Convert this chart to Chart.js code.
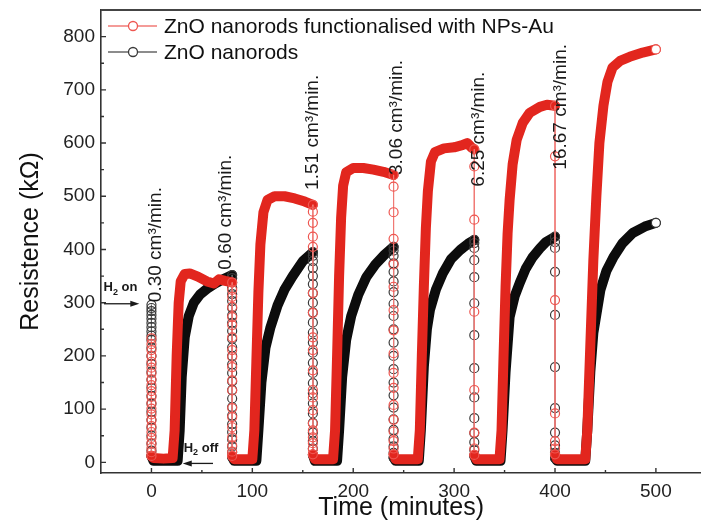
<!DOCTYPE html>
<html>
<head>
<meta charset="utf-8">
<script src="https://cdn.jsdelivr.net/npm/chart.js@4.4.0/dist/chart.umd.min.js"></script>
<style>
  html, body { margin: 0; padding: 0; background: #fff; overflow: hidden; }
  #wrap { width: 701px; height: 523px; overflow: hidden; }
</style>
</head>
<body>
<div id="wrap"><canvas id="chart" width="707" height="523"></canvas></div>
<script>
// H2 switched off at these times (minutes), flow rate of each pulse
const dropTimes = [0, 80, 160, 240, 320, 400];
const flowRates = ['0.30', '0.60', '1.51', '3.06', '6.25', '16.67'];

// ZnO + NPs-Au: readings along each vertical drop (kΩ)
const auDrops = [
  [233, 222, 211, 200, 189, 178, 167, 156, 145, 134, 123, 112, 101, 90, 79, 68, 57, 46, 36, 27, 19, 12],
  [324, 311, 292, 273, 258, 235, 211, 198, 179, 154, 135, 102, 85, 66, 47, 32, 20, 12],
  [471, 450, 424, 405, 318, 281, 235, 211, 173, 136, 122, 98, 73, 60, 47, 36, 25, 15],
  [518, 470, 420, 372, 330, 286, 248, 205, 168, 140, 108, 80, 58, 40, 26, 15],
  [556, 456, 283, 136, 56, 26, 14],
  [575, 305, 92, 40, 26, 15]
];
// ZnO + NPs-Au: recovery after each drop, [minutes, kΩ]
const auCycles = [
  [[2, 8], [12, 7], [21, 8], [23, 60], [25, 200], [27, 300], [29, 340], [33, 354], [38, 355], [46, 349], [55, 340], [62, 336], [67, 344], [73, 341], [80, 338]],
  [[82, 6], [100, 6], [102, 60], [104, 190], [106, 320], [108, 410], [111, 470], [115, 493], [122, 500], [132, 500], [142, 496], [152, 490], [160, 484]],
  [[162, 6], [180, 6], [182, 60], [184, 200], [186, 350], [188, 460], [190, 520], [193, 545], [200, 553], [210, 553], [220, 550], [230, 546], [240, 540]],
  [[242, 6], [264, 6], [266, 60], [268, 200], [270, 330], [272, 440], [274, 510], [277, 565], [281, 583], [290, 590], [300, 592], [308, 596], [313, 600], [317, 592], [320, 588]],
  [[322, 6], [345, 6], [347, 60], [349, 200], [351, 330], [353, 430], [355, 493], [358, 560], [362, 606], [368, 638], [375, 657], [385, 668], [392, 672], [400, 670]],
  [[402, 6], [430, 6], [432, 60], [435, 220], [438, 380], [441, 500], [444, 600], [448, 670], [452, 715], [457, 742], [465, 755], [474, 762], [487, 770], [500, 776]]
];

// bare ZnO nanorods
const znoDrops = [
  [296, 290, 284, 277, 270, 262, 254, 246, 238, 230, 215, 200, 185, 170, 155, 140, 125, 110, 95, 80, 65, 50, 35, 22, 12],
  [346, 338, 328, 316, 303, 290, 276, 262, 247, 232, 216, 200, 184, 168, 152, 136, 120, 104, 88, 72, 57, 43, 30, 19, 10],
  [388, 378, 365, 350, 335, 318, 300, 282, 263, 244, 225, 206, 187, 168, 149, 130, 111, 92, 74, 56, 40, 26, 14],
  [398, 388, 374, 358, 340, 320, 298, 275, 250, 225, 200, 175, 150, 126, 103, 81, 61, 44, 30, 18, 9],
  [412, 403, 380, 348, 299, 239, 177, 122, 83, 55, 38, 23, 12],
  [414, 403, 358, 277, 179, 102, 56, 32, 18, 8]
];
const znoCycles = [
  [[2, 3], [14, 3], [26, 3], [28, 60], [30, 160], [33, 235], [37, 275], [42, 300], [48, 315], [55, 326], [63, 336], [71, 344], [80, 352]],
  [[82, 3], [104, 3], [106, 60], [109, 150], [113, 215], [118, 254], [125, 295], [132, 325], [140, 350], [150, 378], [160, 395]],
  [[162, 3], [184, 3], [186, 60], [189, 160], [193, 230], [198, 275], [205, 315], [213, 348], [222, 372], [231, 390], [240, 405]],
  [[242, 3], [265, 3], [267, 60], [270, 180], [273, 250], [276, 286], [282, 325], [289, 356], [297, 382], [306, 399], [314, 411], [320, 418]],
  [[322, 3], [346, 3], [348, 60], [351, 170], [355, 273], [360, 312], [365, 337], [371, 364], [378, 386], [385, 402], [391, 414], [400, 424]],
  [[402, 3], [430, 3], [432, 60], [435, 170], [438, 243], [445, 324], [451, 360], [458, 386], [467, 412], [477, 431], [489, 443], [500, 450]]
];

const xTicks = [0, 50, 100, 150, 200, 250, 300, 350, 400, 450, 500];
const yTicks = [0, 50, 100, 150, 200, 250, 300, 350, 400, 450, 500, 550, 600, 650, 700, 750, 800];

const FONT = "'Liberation Sans', Arial, sans-serif";
Chart.defaults.font.family = FONT;

function buildSeries(drops, cycles) {
  const pts = [];
  dropTimes.forEach((t, i) => {
    drops[i].forEach(r => pts.push({ x: t, y: r }));
    cycles[i].forEach(p => pts.push({ x: p[0], y: p[1] }));
  });
  return pts;
}

// a point is drawn as a circle when it sits on a vertical drop, or is the last one
function onColumn(ctx) {
  const d = ctx.dataset.data;
  const i = ctx.dataIndex;
  const p = d[i];
  if (!p) return false;
  if (i === d.length - 1) return true;
  return (d[i - 1] && d[i - 1].x === p.x) || (d[i + 1] && d[i + 1].x === p.x);
}
const vertical = ctx => ctx.p0.parsed.x === ctx.p1.parsed.x;

function makeDataset(label, data, thick, thin, marker) {
  return {
    label: label,
    data: data,
    showLine: true,
    borderColor: thick,
    borderWidth: 10,
    borderCapStyle: 'round',
    borderJoinStyle: 'round',
    tension: 0,
    segment: {
      borderWidth: ctx => vertical(ctx) ? 1 : 10,
      borderColor: ctx => vertical(ctx) ? thin : thick
    },
    pointRadius: ctx => onColumn(ctx) ? 4.5 : 0,
    pointBorderWidth: 1.2,
    pointBorderColor: marker,
    pointBackgroundColor: ctx => (ctx.dataIndex === ctx.dataset.data.length - 1) ? '#fff' : 'rgba(255,255,255,0)',
    legendLine: thin,
    legendMarker: marker
  };
}

// inward tick marks and the top frame line
const frame = {
  id: 'frame',
  afterDatasetsDraw(chart) {
    const { ctx, chartArea: a, scales: { x, y } } = chart;
    ctx.save();
    ctx.strokeStyle = '#333';
    ctx.lineWidth = 1.4;
    ctx.beginPath();
    xTicks.forEach(v => {
      const px = x.getPixelForValue(v);
      const len = v % 100 === 0 ? 5 : 3;
      ctx.moveTo(px, a.bottom);
      ctx.lineTo(px, a.bottom - len);
    });
    yTicks.forEach(v => {
      const py = y.getPixelForValue(v);
      const len = v % 100 === 0 ? 5 : 3;
      ctx.moveTo(a.left, py);
      ctx.lineTo(a.left + len, py);
    });
    ctx.stroke();
    ctx.strokeStyle = '#444';
    ctx.lineWidth = 2;
    ctx.beginPath();
    ctx.moveTo(a.left, a.top);
    ctx.lineTo(a.right, a.top);
    ctx.stroke();
    ctx.restore();
  }
};

function drawH2(ctx, x, y, word) {
  ctx.font = 'bold 13px ' + FONT;
  ctx.fillText('H', x, y);
  const w = ctx.measureText('H').width;
  ctx.font = 'bold 9px ' + FONT;
  ctx.fillText('2', x + w, y + 5);
  const w2 = ctx.measureText('2').width;
  ctx.font = 'bold 13px ' + FONT;
  ctx.fillText(' ' + word, x + w + w2, y);
}

function arrow(ctx, x1, y1, x2, y2) {
  const dir = Math.sign(x2 - x1);
  ctx.beginPath();
  ctx.moveTo(x1, y1);
  ctx.lineTo(x2 - dir * 6, y2);
  ctx.stroke();
  ctx.beginPath();
  ctx.moveTo(x2, y2);
  ctx.lineTo(x2 - dir * 9, y2 - 3);
  ctx.lineTo(x2 - dir * 9, y2 + 3);
  ctx.closePath();
  ctx.fill();
}

// flow labels (minutes, kΩ where the text starts) and H2 on/off marks
const labelAnchors = [[4, 301], [74, 362], [160, 512], [243.5, 540], [324, 518], [406, 550]];

const notes = {
  id: 'notes',
  afterDatasetsDraw(chart) {
    const { ctx, scales: { x, y } } = chart;
    ctx.save();
    ctx.fillStyle = '#1a1a1a';
    ctx.font = '19px ' + FONT;
    ctx.textBaseline = 'middle';
    ctx.textAlign = 'left';
    flowRates.forEach((f, i) => {
      const [t, r] = labelAnchors[i];
      ctx.save();
      ctx.translate(x.getPixelForValue(t), y.getPixelForValue(r));
      ctx.rotate(-Math.PI / 2);
      ctx.fillText(f + ' cm\u00b3/min.', 0, 0);
      ctx.restore();
    });

    ctx.strokeStyle = '#1a1a1a';
    ctx.lineWidth = 1.3;
    drawH2(ctx, x.getPixelForValue(-47.5), y.getPixelForValue(328), 'on');
    arrow(ctx, x.getPixelForValue(-47), y.getPixelForValue(298), x.getPixelForValue(-12), y.getPixelForValue(298));
    drawH2(ctx, x.getPixelForValue(32), y.getPixelForValue(27), 'off');
    arrow(ctx, x.getPixelForValue(61), y.getPixelForValue(-2), x.getPixelForValue(31), y.getPixelForValue(-2));

    // legend inside the frame, top left
    const a = chart.chartArea;
    chart.data.datasets.forEach((ds, i) => {
      const ly = a.top + 16 + i * 26;
      const lx = a.left + 7;
      ctx.strokeStyle = ds.legendLine;
      ctx.lineWidth = 1.3;
      ctx.beginPath();
      ctx.moveTo(lx, ly);
      ctx.lineTo(lx + 49, ly);
      ctx.stroke();
      ctx.fillStyle = '#fff';
      ctx.strokeStyle = ds.legendMarker;
      ctx.beginPath();
      ctx.arc(lx + 25, ly, 4.5, 0, Math.PI * 2);
      ctx.fill();
      ctx.stroke();
      ctx.fillStyle = '#111';
      ctx.font = '21px ' + FONT;
      ctx.fillText(ds.label, lx + 56, ly + 1);
    });
    ctx.restore();
  }
};

const chart = new Chart(document.getElementById('chart'), {
  type: 'scatter',
  data: {
    datasets: [
      makeDataset('ZnO nanorods functionalised with NPs-Au', buildSeries(auDrops, auCycles), '#e2261e', '#f07a76', '#ee5650'),
      makeDataset('ZnO nanorods', buildSeries(znoDrops, znoCycles), '#0c0c0c', '#666', '#3a3a3a')
    ]
  },
  options: {
    responsive: false,
    animation: false,
    events: [],
    layout: { padding: { top: 10, right: 0, left: 0, bottom: 0 } },
    plugins: { legend: { display: false }, tooltip: { enabled: false } },
    scales: {
      x: {
        type: 'linear',
        min: -50,
        max: 545,
        afterBuildTicks: axis => { axis.ticks = xTicks.map(v => ({ value: v })); },
        afterFit: scale => {
          scale.height = 50;
          scale.paddingLeft = 0;
          scale.paddingRight = 0;
        },
        grid: { display: false, drawTicks: false },
        border: { display: true, color: '#333', width: 1.6 },
        ticks: {
          autoSkip: false,
          maxRotation: 0,
          padding: 7,
          color: '#222',
          font: { size: 19 },
          callback: v => v % 100 === 0 ? v : ''
        },
        title: { display: true, text: 'Time (minutes)', color: '#111', font: { size: 25 }, padding: { top: 0, bottom: 0 } }
      },
      y: {
        min: -20,
        max: 850,
        afterBuildTicks: axis => { axis.ticks = yTicks.map(v => ({ value: v })); },
        afterFit: scale => {
          scale.width = 101;
          scale.paddingTop = 0;
          scale.paddingBottom = 0;
        },
        grid: { display: false, drawTicks: false },
        border: { display: true, color: '#333', width: 1.6 },
        ticks: {
          autoSkip: false,
          padding: 6,
          color: '#222',
          font: { size: 19 },
          callback: v => v % 100 === 0 ? v : ''
        },
        title: { display: true, text: 'Resistence (k\u03a9)', color: '#111', font: { size: 25 }, padding: { top: 16, bottom: 0 } }
      }
    }
  },
  plugins: [frame, notes]
});
</script>
</body>
</html>
